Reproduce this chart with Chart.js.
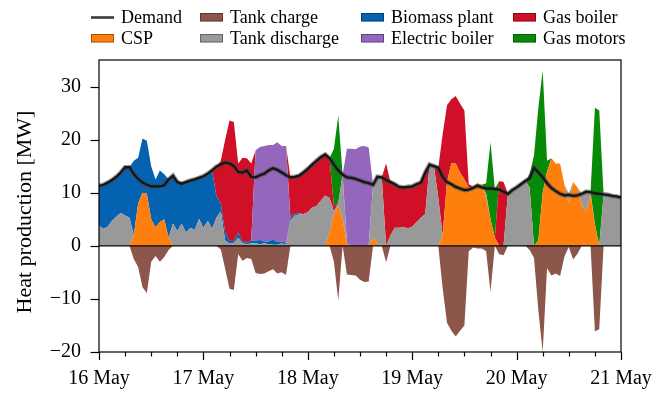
<!DOCTYPE html>
<html>
<head>
<meta charset="utf-8">
<script src="https://cdn.jsdelivr.net/npm/chart.js@4/dist/chart.umd.min.js"></script>
<style>
  html, body { margin: 0; padding: 0; background: #fff; }
  canvas { display: block; }
</style>
</head>
<body>
<canvas id="chart" width="662" height="395"></canvas>
<script>
// Hourly heat production, 16 May 00:00 to 21 May 00:00 (MW)
const HOURS = Array.from({ length: 121 }, (_, i) => i);
const DAY_LABELS = ['16 May', '17 May', '18 May', '19 May', '20 May', '21 May'];
const Y_TICKS = [-20, -10, 0, 10, 20, 30];
const Y_TITLE = 'Heat production [MW]';

const DEMAND = [
  11.3, 11.5, 11.9, 12.4, 13.0, 13.8, 14.8, 14.8, 13.5, 12.6,
  11.9, 11.5, 11.2, 11.2, 11.2, 11.4, 12.5, 13.2, 12.0, 11.7,
  12.0, 12.3, 12.5, 12.8, 13.1, 13.6, 14.2, 14.9, 15.3, 15.7,
  15.5, 15.0, 13.9, 13.8, 14.2, 13.0, 12.9, 13.3, 13.6, 14.2,
  14.6, 14.3, 13.8, 13.3, 12.9, 13.0, 13.2, 13.8, 14.5, 15.3,
  16.0, 16.7, 17.2, 16.5, 15.3, 14.2, 13.4, 12.9, 12.8, 12.6,
  12.3, 12.0, 11.8, 11.5, 13.0, 12.9, 12.4, 12.0, 11.6, 11.1,
  11.0, 11.1, 11.2, 11.6, 11.9, 13.8, 15.3, 15.0, 14.7, 13.0,
  12.0, 11.6, 11.1, 10.8, 10.5, 10.6, 10.9, 11.3, 11.0, 10.8,
  10.8, 10.7, 10.6, 10.2, 9.8, 10.5, 11.0, 11.6, 12.2, 12.7,
  14.7, 13.8, 12.9, 11.8, 10.9, 10.3, 9.8, 9.5, 9.6, 9.4,
  9.5, 9.8, 10.2, 10.1, 9.9, 9.8, 9.7, 9.6, 9.4, 9.3,
  9.1
];

const CSP = [
  0, 0, 0, 0, 0, 0, 0, 0, 2, 8,
  10, 9.8, 5, 3.5, 4.5, 5, 1.5, 0, 0, 0,
  0, 0, 0, 0, 0, 0, 0, 0, 0, 0,
  0, 0, 0, 0, 0, 0, 0, 0, 0, 0,
  0, 0, 0, 0, 0, 0, 0, 0, 0, 0,
  0, 0, 0, 2.5, 6, 7.5, 5, 0.5, 0, 0,
  0, 0, 0, 1.5, 0.5, 0, 0, 0, 0, 0,
  0, 0, 0, 0, 0, 0, 0, 0, 0, 2,
  12, 15.5, 15.5, 13.8, 12.5, 11, 11.2, 11.8, 11.5, 9,
  5, 1.5, 0, 0, 0, 0, 0, 0, 0, 0,
  0, 1, 10, 14, 16.5, 15.5, 15.5, 11.5, 8, 12,
  11, 7.6, 6.5, 9.5, 4, 0, 0, 0, 0, 0,
  0
];

const TANK_DISCHARGE = [
  3.8, 3.2, 3.6, 4.7, 5.5, 6.2, 5.7, 5.3, 0, 0,
  0, 0, 0, 0, 0, 0, 0, 4.2, 2.8, 4.2,
  2.5, 3.4, 3.0, 5.1, 3.4, 4.7, 3.2, 5.3, 6.5, 1.0,
  0.5, 0.5, 1.5, 0.5, 0.3, 0.5, 0.5, 0.3, 0.5, 0.3,
  0.2, 0.2, 0.5, 0.2, 4.7, 5.7, 5.9, 6.0, 6.3, 7.2,
  7.5, 8.5, 9.5, 6.5, 0.5, 0.5, 8.4, 0, 0, 0,
  0, 0, 0, 10.0, 12.5, 12.9, 0, 2.0, 3.4, 3.4,
  3.5, 3.3, 3.6, 4.5, 5.3, 6.0, 15.3, 15.0, 9.0, 0,
  0, 0, 0, 0, 0, 0, 0, 0, 0, 0.8,
  0, 0, 0, 0, 9.8, 10.5, 11.0, 11.6, 12.2, 11.0,
  0, 0, 0, 0, 0, 0, 0, 0, 1.8, 0,
  0, 2.2, 3.7, 0.6, 0, 0, 9.7, 9.6, 9.4, 9.3,
  9.1
];

const BIOMASS = [
  7.5, 8.3, 8.3, 7.7, 7.5, 7.6, 9.1, 9.5, 14, 8.6,
  10.2, 10, 10, 9, 9.7, 8.5, 11, 9.0, 9.2, 7.5,
  9.5, 8.9, 9.5, 7.7, 9.7, 8.9, 11.0, 4.0, 1.5, 1.5,
  0.5, 0.3, 1.0, 0.3, 0.3, 0.5, 0.5, 0.8, 0.3, 0.5,
  1.0, 0.5, 0.3, 0.4, 0.5, 0.5, 0.2, 0, 0, 0,
  0, 0, 0, 0, 0, 0, 0, 0, 0, 0,
  0, 0, 0, 0, 0, 0, 0, 0, 0, 0,
  0, 0, 0, 0, 0, 0, 0, 0, 0, 0,
  0, 0, 0, 0, 0, 0, 0, 0, 0, 0,
  0, 0, 0, 0, 0, 0, 0, 0, 0, 0,
  0, 0, 0, 0, 0, 0, 0, 0, 0, 0,
  0, 0, 0, 0, 0, 0, 0, 0, 0, 0,
  0
];

const ELECTRIC_BOILER = [
  0, 0, 0, 0, 0, 0, 0, 0, 0, 0,
  0, 0, 0, 0, 0, 0, 0, 0, 0, 0,
  0, 0, 0, 0, 0, 0, 0, 0, 0, 0,
  0, 0, 0, 0, 0, 0, 17, 17.5, 18, 18.2,
  17.8, 18.8, 18, 18.2, 0, 0, 0, 0, 0, 0,
  0, 0, 0, 0, 0, 0, 0, 17.8, 18.3, 18.2,
  18.7, 18.8, 18.5, 0, 0, 0, 0, 0, 0, 0,
  0, 0, 0, 0, 0, 0, 0, 0, 0, 0,
  0, 0, 0, 0, 0, 0, 0, 0, 0, 0,
  0, 0, 0, 0, 0, 0, 0, 0, 0, 0,
  0, 0, 0, 0, 0, 0, 0, 0, 0, 0,
  0, 0, 0, 0, 0, 0, 0, 0, 0, 0,
  0
];

const GAS_BOILER = [
  0, 0, 0, 0, 0, 0, 0, 0, 0, 0,
  0, 0, 0, 0, 0, 0, 0, 0, 0, 0,
  0, 0, 0, 0, 0, 0, 0, 5.6, 8.0, 17.5,
  22.6, 22.5, 13.0, 15.8, 15.9, 14.5, 0, 0, 0, 0,
  0, 0, 0, 0, 7.7, 6.8, 7.1, 7.8, 8.2, 8.1,
  8.5, 8.2, 7.7, 7.5, 1.0, 0, 0, 0, 0, 0,
  0, 0, 0, 0, 0, 0, 15.5, 10.0, 8.2, 7.7,
  7.5, 7.8, 7.6, 7.1, 6.6, 7.8, 0, 0, 5.7, 19,
  14.5, 12.1, 12.7, 13, 13, 0.6, 0, 0, 0, 0,
  0, 0, 12.2, 12.0, 0, 0, 0, 0, 0, 0,
  0, 0, 0, 0, 0, 0, 0, 0, 0, 0,
  0, 0, 0, 0, 0, 0, 0, 0, 0, 0,
  0
];

const GAS_MOTORS = [
  0, 0, 0, 0, 0, 0, 0, 0, 0, 0,
  0, 0, 0, 0, 0, 0, 0, 0, 0, 0,
  0, 0, 0, 0, 0, 0, 0, 0, 0, 0,
  0, 0, 0, 0, 0, 0, 0, 0, 0, 0,
  0, 0, 0, 0, 0, 0, 0, 0, 0, 0,
  0, 0, 0, 0, 10.8, 16.5, 0, 0, 0, 0,
  0, 0, 0, 0, 0, 0, 0, 0, 0, 0,
  0, 0, 0, 0, 0, 0, 0, 0, 0, 0,
  0, 0, 0, 0, 0, 0, 0, 0, 0, 2,
  14.5, 9.2, 0, 0, 0, 0, 0, 0, 0, 2.5,
  17, 25, 23, 2, 0, 0, 0, 0, 0, 0,
  0, 0, 0, 0, 22, 25.5, 0, 0, 0, 0,
  0
];

const TANK_CHARGE = [
  0, 0, 0, 0, 0, 0, 0, 0, -2.5, -4.0,
  -7.8, -8.9, -3.0, -1.9, -3.0, -2.1, -0.8, 0, 0, 0,
  0, 0, 0, 0, 0, 0, 0, 0, -0.7, -4.3,
  -8.1, -8.3, -1.6, -2.8, -2.3, -2.5, -5.1, -5.3, -5.2, -4.8,
  -4.4, -5.2, -5.0, -5.5, 0, 0, 0, 0, 0, 0,
  0, 0, 0, 0, -3.0, -10.3, 0, -5.4, -5.5, -5.6,
  -6.4, -6.8, -6.7, 0, 0, 0, -3.1, 0, 0, 0,
  0, 0, 0, 0, 0, 0, 0, 0, 0, -8,
  -14.5, -16, -17.1, -16, -15, -1.0, -0.3, -0.5, -0.5, -1.0,
  -8.7, 0, -1.6, -1.8, 0, 0, 0, 0, 0, -0.8,
  -2.3, -12.2, -20, -4.2, -5.6, -5.2, -5.7, -2.0, -0.2, -2.6,
  -1.5, 0, 0, 0, -16.1, -15.7, 0, 0, 0, 0,
  0
];

const COLORS = {
  demand: '#3a3a3a',
  csp: '#ff7f0e',
  charge: '#8c564b',
  discharge: '#999999',
  biomass: '#0562b0',
  eboiler: '#9467bd',
  gasBoiler: '#d01027',
  gasMotors: '#078a07'
};

function area(label, data, color, fill) {
  return {
    label, data, fill,
    stack: 'production',
    backgroundColor: color,
    borderColor: 'rgba(0,0,0,0)',
    borderWidth: 0,
    pointRadius: 0,
    tension: 0
  };
}

const datasets = [
  area('CSP', CSP, COLORS.csp, 'origin'),
  area('Tank discharge', TANK_DISCHARGE, COLORS.discharge, '-1'),
  area('Biomass plant', BIOMASS, COLORS.biomass, '-1'),
  area('Electric boiler', ELECTRIC_BOILER, COLORS.eboiler, '-1'),
  area('Gas boiler', GAS_BOILER, COLORS.gasBoiler, '-1'),
  area('Gas motors', GAS_MOTORS, COLORS.gasMotors, '-1'),
  {
    label: 'Tank charge', data: TANK_CHARGE, stack: 'charge', fill: 'origin',
    backgroundColor: COLORS.charge, borderColor: 'rgba(0,0,0,0)', borderWidth: 0,
    pointRadius: 0, tension: 0
  },
  // demand: soft grey halo underneath a dark core line
  {
    label: 'Demand halo', data: DEMAND, stack: 'demand-halo', fill: false, order: -1,
    borderColor: 'rgba(70,70,70,0.55)', borderWidth: 4.6, pointRadius: 0, tension: 0
  },
  {
    label: 'Demand', data: DEMAND, stack: 'demand', fill: false, order: -2,
    borderColor: '#151515', borderWidth: 2.3, pointRadius: 0, tension: 0
  }
];

// Legend laid out in two rows, four columns
const LEGEND_ITEMS = [
  { label: 'Demand', color: COLORS.demand, line: true, col: 0, row: 0 },
  { label: 'CSP', color: COLORS.csp, col: 0, row: 1 },
  { label: 'Tank charge', color: COLORS.charge, col: 1, row: 0 },
  { label: 'Tank discharge', color: COLORS.discharge, col: 1, row: 1 },
  { label: 'Biomass plant', color: COLORS.biomass, col: 2, row: 0 },
  { label: 'Electric boiler', color: COLORS.eboiler, col: 2, row: 1 },
  { label: 'Gas boiler', color: COLORS.gasBoiler, col: 3, row: 0 },
  { label: 'Gas motors', color: COLORS.gasMotors, col: 3, row: 1 }
];
const LEGEND_COL_X = [91, 200, 361, 513];
const LEGEND_ROW_Y = [17, 38];

const FONT = '"Liberation Serif", "Times New Roman", serif';

const decorations = {
  id: 'decorations',
  afterDatasetsDraw(chart) {
    const { ctx, chartArea: a, scales: { y } } = chart;
    const y0 = y.getPixelForValue(0);
    ctx.save();
    ctx.strokeStyle = '#000';
    ctx.lineWidth = 1.2;
    ctx.beginPath();
    ctx.moveTo(a.left, y0);
    ctx.lineTo(a.right, y0);
    ctx.stroke();
    ctx.restore();
  },
  afterDraw(chart) {
    const { ctx, chartArea: a, scales: { x, y } } = chart;
    ctx.save();
    ctx.strokeStyle = '#000';
    ctx.lineWidth = 1.2;
    // frame
    ctx.strokeRect(a.left, a.top, a.right - a.left, a.bottom - a.top);
    // x ticks: major each day, minor every 6 hours
    for (let h = 0; h <= 120; h += 6) {
      const px = Math.round(x.getPixelForValue(h)) + 0.5;
      const len = h % 24 === 0 ? 8 : 4.5;
      ctx.beginPath();
      ctx.moveTo(px, a.bottom);
      ctx.lineTo(px, a.bottom + len);
      ctx.stroke();
    }
    // y ticks
    Y_TICKS.forEach(v => {
      const py = Math.round(y.getPixelForValue(v)) + 0.5;
      ctx.beginPath();
      ctx.moveTo(a.left - 8.5, py);
      ctx.lineTo(a.left, py);
      ctx.stroke();
    });
    // y-axis title
    ctx.save();
    ctx.translate(25, (a.top + a.bottom) / 2 + 6);
    ctx.rotate(-Math.PI / 2);
    ctx.font = '22px ' + FONT;
    ctx.fillStyle = '#000';
    ctx.textAlign = 'center';
    ctx.textBaseline = 'middle';
    ctx.fillText(Y_TITLE, 0, 0);
    ctx.restore();
    // legend
    ctx.font = '18px ' + FONT;
    ctx.textBaseline = 'alphabetic';
    ctx.textAlign = 'left';
    LEGEND_ITEMS.forEach(it => {
      const hx = LEGEND_COL_X[it.col];
      const cy = LEGEND_ROW_Y[it.row];
      if (it.line) {
        ctx.strokeStyle = it.color;
        ctx.lineWidth = 2.6;
        ctx.beginPath();
        ctx.moveTo(hx, cy + 0.5);
        ctx.lineTo(hx + 23, cy + 0.5);
        ctx.stroke();
      } else {
        ctx.fillStyle = it.color;
        ctx.fillRect(hx, cy - 4, 23, 8.5);
        ctx.strokeStyle = 'rgba(0,0,0,0.35)';
        ctx.lineWidth = 1;
        ctx.strokeRect(hx + 0.5, cy - 3.5, 22, 7.5);
      }
      ctx.fillStyle = '#000';
      ctx.fillText(it.label, hx + 30, cy + 6);
    });
    ctx.restore();
  }
};

Chart.defaults.font.family = FONT;
Chart.defaults.color = '#000';

new Chart(document.getElementById('chart'), {
  type: 'line',
  data: { labels: HOURS, datasets },
  options: {
    responsive: false,
    animation: false,
    events: [],
    layout: { padding: { left: 0, right: 41, top: 60, bottom: 0 } },
    plugins: { legend: { display: false }, tooltip: { enabled: false } },
    scales: {
      x: {
        type: 'linear',
        min: 0, max: 120,
        grid: { display: false, drawTicks: false },
        border: { display: false },
        ticks: {
          stepSize: 24,
          autoSkip: false,
          maxRotation: 0,
          padding: 15,
          font: { size: 20 },
          callback: v => DAY_LABELS[v / 24] ?? ''
        },
        afterFit: s => { s.height = 43; s.paddingLeft = 0; s.paddingRight = 0; }
      },
      y: {
        stacked: true,
        min: -20, max: 35,
        grid: { display: false, drawTicks: false },
        border: { display: false },
        ticks: {
          stepSize: 10,
          includeBounds: false,
          padding: 18,
          font: { size: 20 },
          callback: v => String(v).replace('-', '\u2212')
        },
        afterFit: s => { s.width = 99; s.paddingTop = 0; s.paddingBottom = 0; }
      }
    }
  },
  plugins: [decorations]
});
</script>
</body>
</html>
